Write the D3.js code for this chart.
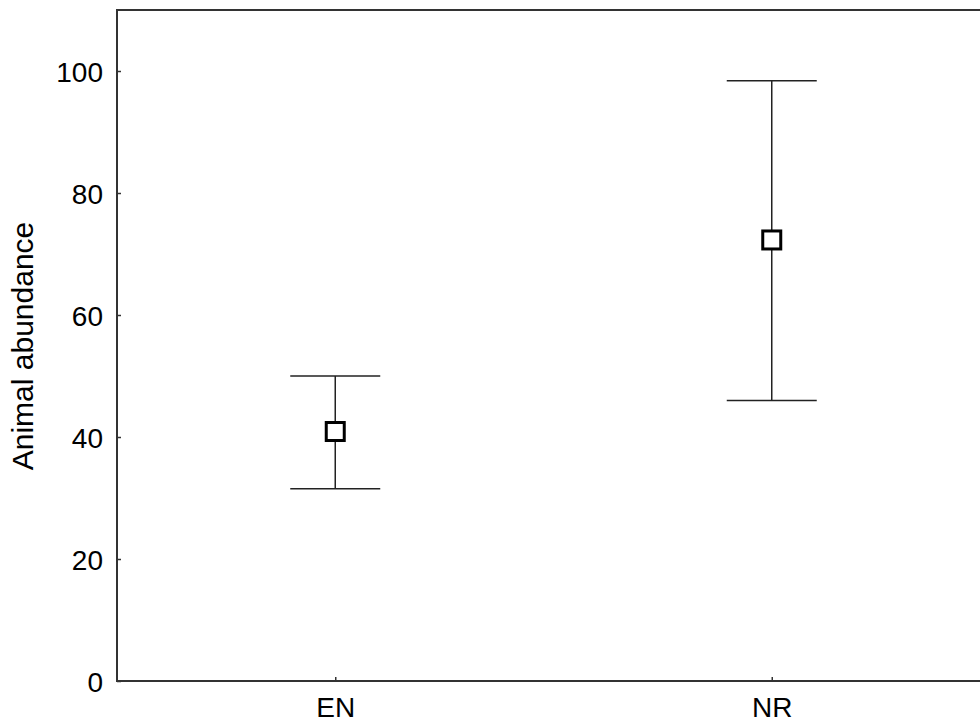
<!DOCTYPE html>
<html>
<head>
  <meta charset="utf-8">
  <title>Animal abundance</title>
  <script src="https://d3js.org/d3.v7.min.js"></script>
  <style>
    body { margin: 0; background: white; }
    .canvas { background-color: white; }
    text { font-family: "Liberation Sans", Arial, sans-serif; fill: #000; }
  </style>
</head>
<body>
<script>
  // Data
  var categories = ["EN", "NR"];
  var means = [40.9, 72.3];
  var lower = [31.5, 46.0];
  var upper = [50.0, 98.4];
  var yTicks = [0, 20, 40, 60, 80, 100];

  var rows = categories.map(function(c, i) {
    return {cat: c, mean: means[i], lo: lower[i], hi: upper[i]};
  });

  // Consts
  var width = 980, height = 722;
  var plot = {left: 117, top: 10, bottom: 681, right: 990};

  var svg = d3.select("body")
              .append("svg")
              .attr("width", width)
              .attr("height", height)
              .attr("class", "canvas");

  // Scale
  var x = d3.scalePoint().domain(categories).range([plot.left, plot.right]).padding(0.5);
  var y = d3.scaleLinear().domain([0, 110]).range([plot.bottom, plot.top]);

  // axisLeft (ticks pointing inward)
  var gy = svg.append("g")
      .attr("transform", "translate(" + plot.left + ",0)")
      .call(d3.axisRight(y).tickValues(yTicks).tickSize(4).tickSizeOuter(0));
  gy.select(".domain").remove();
  gy.selectAll(".tick line").attr("stroke", "#333").attr("stroke-width", 1.5);
  gy.selectAll(".tick text")
      .attr("x", -14)
      .attr("dy", "0.36em")
      .style("text-anchor", "end")
      .style("font-size", "28px");

  // axisBottom (ticks pointing inward)
  var gx = svg.append("g")
      .attr("transform", "translate(0," + plot.bottom + ")")
      .call(d3.axisTop(x).tickSize(4).tickSizeOuter(0));
  gx.select(".domain").remove();
  gx.selectAll(".tick line").attr("stroke", "#333").attr("stroke-width", 1.5);
  gx.selectAll(".tick text")
      .attr("y", 36)
      .attr("dy", 0)
      .style("font-size", "28px");

  // frame
  svg.append("path")
      .attr("d", "M" + plot.right + "," + plot.top + "H" + plot.left + "V" + plot.bottom + "H" + plot.right)
      .attr("fill", "none")
      .attr("stroke", "#333")
      .attr("stroke-width", 2);

  // y label
  svg.append("text")
      .attr("transform", "translate(33,346) rotate(-90)")
      .style("text-anchor", "middle")
      .style("font-size", "30px")
      .text("Animal abundance");

  // Error bars
  var cap = 45;
  var bar = svg.selectAll(".bar")
      .data(rows)
      .enter()
      .append("g")
      .attr("class", "bar")
      .attr("stroke", "#222")
      .attr("stroke-width", 1.5);

  bar.append("line")
      .attr("x1", function(d) { return x(d.cat); })
      .attr("x2", function(d) { return x(d.cat); })
      .attr("y1", function(d) { return y(d.lo); })
      .attr("y2", function(d) { return y(d.hi); });

  bar.append("line")
      .attr("x1", function(d) { return x(d.cat) - cap; })
      .attr("x2", function(d) { return x(d.cat) + cap; })
      .attr("y1", function(d) { return y(d.hi); })
      .attr("y2", function(d) { return y(d.hi); });

  bar.append("line")
      .attr("x1", function(d) { return x(d.cat) - cap; })
      .attr("x2", function(d) { return x(d.cat) + cap; })
      .attr("y1", function(d) { return y(d.lo); })
      .attr("y2", function(d) { return y(d.lo); });

  // Mean markers
  var s = 18;
  bar.append("rect")
      .attr("x", function(d) { return x(d.cat) - s / 2; })
      .attr("y", function(d) { return y(d.mean) - s / 2; })
      .attr("width", s)
      .attr("height", s)
      .attr("fill", "white")
      .attr("stroke", "#000")
      .attr("stroke-width", 3);
</script>
</body>
</html>
